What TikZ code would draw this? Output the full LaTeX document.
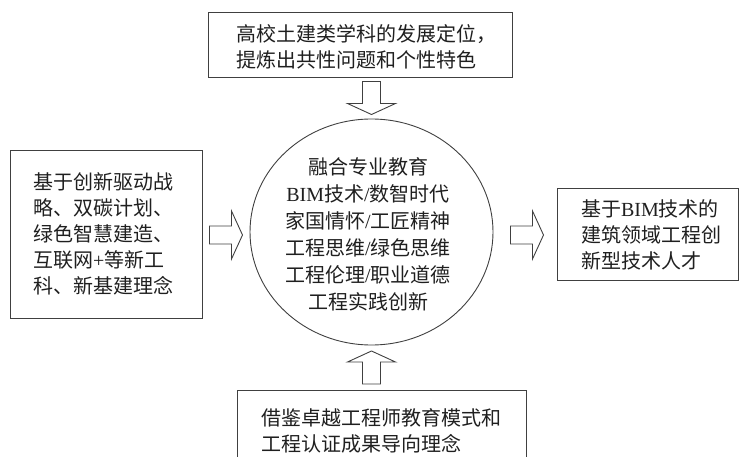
\documentclass[tikz,border=0pt]{standalone}
\usepackage{fontspec}
\setmainfont{Liberation Serif}
\newfontfamily\cjk{Noto Sans CJK SC}
\usetikzlibrary{shapes.geometric,calc}
\newcommand\latn[1]{{\rmfamily #1}}
\definecolor{linec}{gray}{0.25}
\definecolor{textc}{gray}{0.12}
\begin{document}
\begin{tikzpicture}[x=1pt,y=-1pt,
  box/.style={draw=linec, line width=0.9pt, inner sep=0pt, rectangle},
  txt/.style={inner sep=0pt, align=left, text=textc, font=\cjk\fontsize{20}{26}\selectfont},
  blk/.pic={\draw[line width=0.9pt, draw=linec, fill=white]
     (-16.5,-9) -- (5.5,-9) -- (5.5,-24) -- (16.5,0) -- (5.5,24) -- (5.5,9) -- (-16.5,9) -- cycle;}
]
\clip (0,0) rectangle (739,457);
\useasboundingbox (0,0) rectangle (739,457);

\node[box, minimum width=304pt, minimum height=65pt] (top) at (360,44.5) {};
\node[txt] (toptext) at (366.5,46.5) {高校土建类学科的发展定位，\\提炼出共性问题和个性特色};

\node[box, minimum width=192pt, minimum height=168pt] (left) at (106,234) {};
\node[txt] (lefttext) at (103,233.5) {基于创新驱动战\\略、双碳计划、\\绿色智慧建造、\\互联网\latn{+}等新工\\科、新基建理念};

\node[draw=linec, line width=0.9pt, ellipse, minimum width=243pt, minimum height=226pt, inner sep=0pt] (core) at (371.5,232) {};
\node[txt, align=center, font=\cjk\fontsize{20}{27}\selectfont] (coretext) at (368,234.5)
  {融合专业教育\\\latn{BIM}技术\latn{/}数智时代\\家国情怀\latn{/}工匠精神\\工程思维\latn{/}绿色思维\\工程伦理\latn{/}职业道德\\工程实践创新};

\node[box, minimum width=181pt, minimum height=92pt] (right) at (647.5,234) {};
\node[txt] (righttext) at (651,235) {基于\latn{BIM}技术的\\建筑领域工程创\\新型技术人才};

\node[box, minimum width=289pt, minimum height=81pt] (bottom) at (381.5,430.5) {};
\node[txt] (bottomtext) at (381.5,430.5) {借鉴卓越工程师教育模式和\\工程认证成果导向理念};

\pic at ($(left.east)!0.5!(core.west)+(0,2)$) {blk};
\pic at ($(core.east)!0.5!(right.west)+(2,2)$) {blk};
\pic[rotate=-90] at ($(core.north)!0.5!(core.north |- top.south)$) {blk};
\pic[rotate=90] at ($(core.south)!0.5!(core.south |- bottom.north)$) {blk};
\end{tikzpicture}
\end{document}
